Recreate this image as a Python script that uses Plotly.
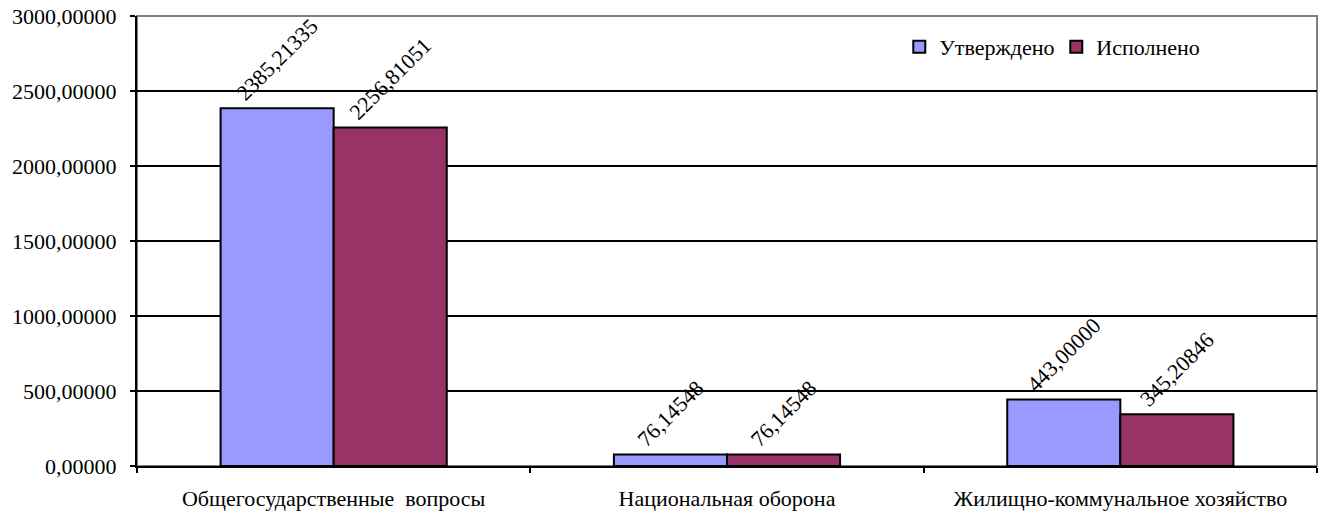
import plotly.graph_objects as go

categories = ["Общегосударственные  вопросы", "Национальная оборона", "Жилищно-коммунальное хозяйство"]
approved = [2385.21335, 76.14548, 443.00000]
executed = [2256.81051, 76.14548, 345.20846]
series_names = ["Утверждено", "Исполнено"]
tick_vals = [0, 500, 1000, 1500, 2000, 2500, 3000]

def fmt(v):
    return f"{v:.5f}".replace(".", ",")

font = "Liberation Serif, Times New Roman, serif"
fs = 22

fig = go.Figure()
for name, vals, color in [(series_names[0], approved, "#9999FF"), (series_names[1], executed, "#993366")]:
    fig.add_trace(go.Bar(
        x=categories, y=vals, name=name,
        marker=dict(color=color, line=dict(color="black", width=2)),
        text=[fmt(v) for v in vals], textposition="outside", textangle=-45,
        textfont=dict(family=font, size=fs, color="black"),
        constraintext="none",
        cliponaxis=False,
    ))

fig.update_layout(
    width=1324, height=512,
    margin=dict(l=137, r=7, t=16, b=46),
    paper_bgcolor="white", plot_bgcolor="white",
    barmode="group", bargap=0.425, bargroupgap=0,
    font=dict(family=font, size=fs, color="black"),
    legend=dict(orientation="h", x=0.646, y=0.978, xanchor="left", yanchor="top",
                font=dict(family=font, size=fs), entrywidth=112, entrywidthmode="pixels",
                bgcolor="rgba(0,0,0,0)"),
    shapes=[dict(type="rect", xref="paper", yref="paper", x0=0, x1=1, y0=0, y1=1,
                 line=dict(color="#808080", width=2), layer="below")],
)
fig.update_yaxes(range=[0, 3000], tickvals=tick_vals, ticktext=[fmt(v) for v in tick_vals],
                 showgrid=True, gridcolor="black", gridwidth=2,
                 showline=True, linecolor="black", linewidth=2,
                 ticks="outside", ticklen=5, tickcolor="black", tickwidth=2,
                 ticklabelstandoff=9, automargin=False,
                 zeroline=False, tickfont=dict(family=font, size=fs))
fig.update_xaxes(showline=True, linecolor="black", linewidth=2,
                 ticks="outside", tickson="boundaries", ticklen=5, tickcolor="black", tickwidth=2,
                 ticklabelstandoff=12, automargin=False, tickfont=dict(family=font, size=fs))
fig.write_html("out.html", config={"displayModeBar": False},
               post_script="document.body.style.margin='0';document.body.style.overflow='hidden';")
